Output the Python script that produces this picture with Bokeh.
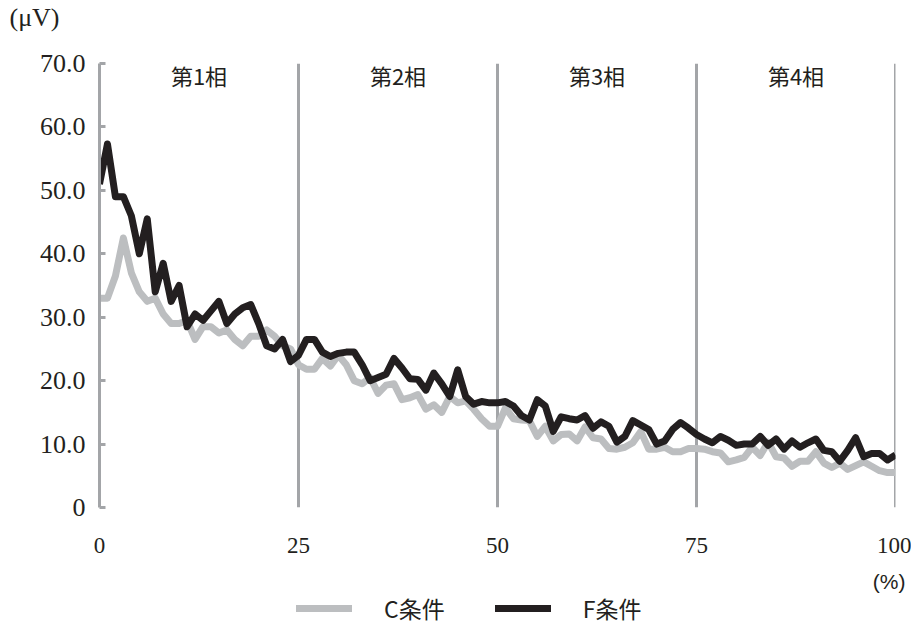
from bokeh.plotting import figure
from bokeh.layouts import column
from bokeh.models import Legend, LegendItem, FixedTicker, ColumnDataSource, Title, Range1d
from bokeh.core.properties import value
from bokeh.embed import file_html
from bokeh.resources import INLINE

# ---- data ----
pct = list(range(0, 101))
c_cond = [33, 33, 36.5, 42.5, 37, 34, 32.5, 33, 30.5, 29, 29, 29.5, 26.5, 28.5, 28.5, 27.5, 28, 26.5, 25.5, 27,
          27, 28, 27, 25.5, 25, 22.5, 21.8, 21.8, 23.5, 22.3, 24, 22.5, 20, 19.5, 20.5, 18, 19.3, 19.5, 17, 17.3,
          17.8, 15.5, 16.2, 15, 17.5, 16.5, 16.8, 15.5, 14, 12.8, 12.8, 15.7, 14, 13.8, 13.7, 11.2, 12.8, 10.5, 11.5, 11.6,
          10.5, 12.7, 11, 10.8, 9.3, 9.2, 9.5, 10.2, 12, 9.2, 9.2, 9.5, 8.8, 8.8, 9.3, 9.3, 9.2, 8.8, 8.6, 7.2,
          7.5, 7.9, 9.5, 8.2, 10.3, 8, 7.8, 6.5, 7.3, 7.3, 8.8, 7, 6.3, 7, 6, 6.6, 7.2, 6.5, 5.8, 5.5, 5.5]
f_cond = [51, 57.3, 49, 49, 46, 40, 45.5, 34, 38.5, 32.5, 35, 28.5, 30.5, 29.5, 31, 32.5, 29, 30.5, 31.5, 32,
          29, 25.5, 25, 26.5, 23, 24, 26.5, 26.5, 24.5, 23.8, 24.3, 24.5, 24.5, 22.5, 20, 20.5, 21, 23.5, 22, 20.3,
          20.2, 18.5, 21.2, 19.5, 17.5, 21.7, 17.5, 16.3, 16.7, 16.5, 16.5, 16.7, 16, 14.5, 13.8, 17, 16, 12, 14.3, 14,
          13.8, 14.5, 12.5, 13.5, 12.8, 10.3, 11.2, 13.7, 13, 12.3, 10, 10.5, 12.3, 13.4, 12.5, 11.5, 10.8, 10.2, 11.2, 10.6,
          9.8, 10, 10, 11.2, 9.8, 10.8, 9.2, 10.5, 9.5, 10.2, 10.8, 9, 8.8, 7.3, 9, 11, 8, 8.5, 8.5, 7.5, 8.3]
phase_bounds = [25, 50, 75, 100]
phase_centers = [12.5, 37.5, 62.5, 87.5]
phase_labels = ["第1相", "第2相", "第3相", "第4相"]
y_ticks = [0, 10, 20, 30, 40, 50, 60, 70]
y_tick_labels = ["0", "10.0", "20.0", "30.0", "40.0", "50.0", "60.0", "70.0"]
x_ticks = [0, 25, 50, 75, 100]
series_names = ["C条件", "F条件"]
y_unit = "(μV)"
x_unit = "(%)"

SERIF = "Liberation Serif"
GRAY_AX = "#a3a5a8"
GRAY_C = "#bcbec0"
INK = "#231f20"

src = ColumnDataSource(dict(x=pct, c=c_cond, f=f_cond))

p = figure(width=911, height=567, output_backend="svg", toolbar_location=None,
           x_range=(0, 100), y_range=(0, 70),
           min_border_left=99, min_border_right=16, min_border_top=63, min_border_bottom=60)
p.outline_line_color = None
p.xgrid.visible = False
p.ygrid.visible = False

# axes
p.yaxis.ticker = FixedTicker(ticks=y_ticks)
p.yaxis.major_label_overrides = {t: l for t, l in zip(y_ticks, y_tick_labels)}
p.yaxis.axis_line_color = GRAY_AX
p.yaxis.axis_line_width = 3
p.yaxis.major_tick_line_color = GRAY_AX
p.yaxis.major_tick_line_width = 3
p.yaxis.major_tick_in = 6
p.yaxis.major_tick_out = 0
p.yaxis.minor_tick_line_color = None
p.yaxis.major_label_standoff = 14
p.yaxis.major_label_text_font = SERIF
p.yaxis.major_label_text_font_size = "26px"
p.yaxis.major_label_text_color = INK

p.xaxis.ticker = FixedTicker(ticks=x_ticks)
p.xaxis.axis_line_color = None
p.xaxis.major_tick_line_color = None
p.xaxis.minor_tick_line_color = None
p.xaxis.major_label_standoff = 24
p.xaxis.major_label_text_font = SERIF
p.xaxis.major_label_text_font_size = "23px"
p.xaxis.major_label_text_color = INK

# phase boundaries
p.segment(x0=phase_bounds, y0=[0] * 4, x1=phase_bounds, y1=[70] * 4,
          line_color=GRAY_AX, line_width=3)

# phase labels
p.text(x=phase_centers, y=[68.2] * 4, text=phase_labels,
       text_font=value("Noto Sans CJK JP"), text_font_size="22px",
       text_align="center", text_baseline="middle", text_color=INK)

# series
p.line("x", "c", source=src, line_color=GRAY_C, line_width=7, line_join="round")
p.line("x", "f", source=src, line_color=INK, line_width=7, line_join="round")

# y unit title (a blank title first, to lift it away from the frame)
p.add_layout(Title(text=" ", text_font_size="26px", standoff=0), "above")
p.add_layout(Title(text=y_unit, align="left", offset=-90, text_font=SERIF,
                   text_font_size="26px", text_font_style="normal", text_color=INK,
                   standoff=0), "above")

# legend strip (separate small figure, series lines kept out of its view)
lf = figure(width=911, height=58, output_backend="svg", toolbar_location=None,
            x_range=Range1d(1000, 1001), y_range=Range1d(0, 1),
            min_border=0, min_border_left=0, min_border_right=0, min_border_top=0, min_border_bottom=0)
lf.axis.visible = False
lf.grid.visible = False
lf.outline_line_color = None
lc = lf.line("x", "c", source=src, line_color=GRAY_C, line_width=7, line_cap="round")
lk = lf.line("x", "f", source=src, line_color=INK, line_width=7, line_cap="round")
legend = Legend(items=[LegendItem(label=series_names[0], renderers=[lc]),
                       LegendItem(label=series_names[1], renderers=[lk])],
                location=(197, 0), orientation="horizontal",
                glyph_width=56, glyph_height=24, label_standoff=32, spacing=50,
                padding=0, margin=0, border_line_color=None, background_fill_alpha=0,
                label_text_font="Noto Sans CJK JP", label_text_font_size="23px",
                label_text_color=INK)
lf.add_layout(legend, "center")
# x unit title sits on top of the legend strip, at the right end
lf.add_layout(Title(text=x_unit, align="right", offset=-10, text_font="Liberation Sans",
                    text_font_size="21px", text_font_style="normal", text_color=INK,
                    standoff=0), "above")

layout = column(p, lf, spacing=0)
open("out.html", "w").write(file_html(layout, INLINE))
